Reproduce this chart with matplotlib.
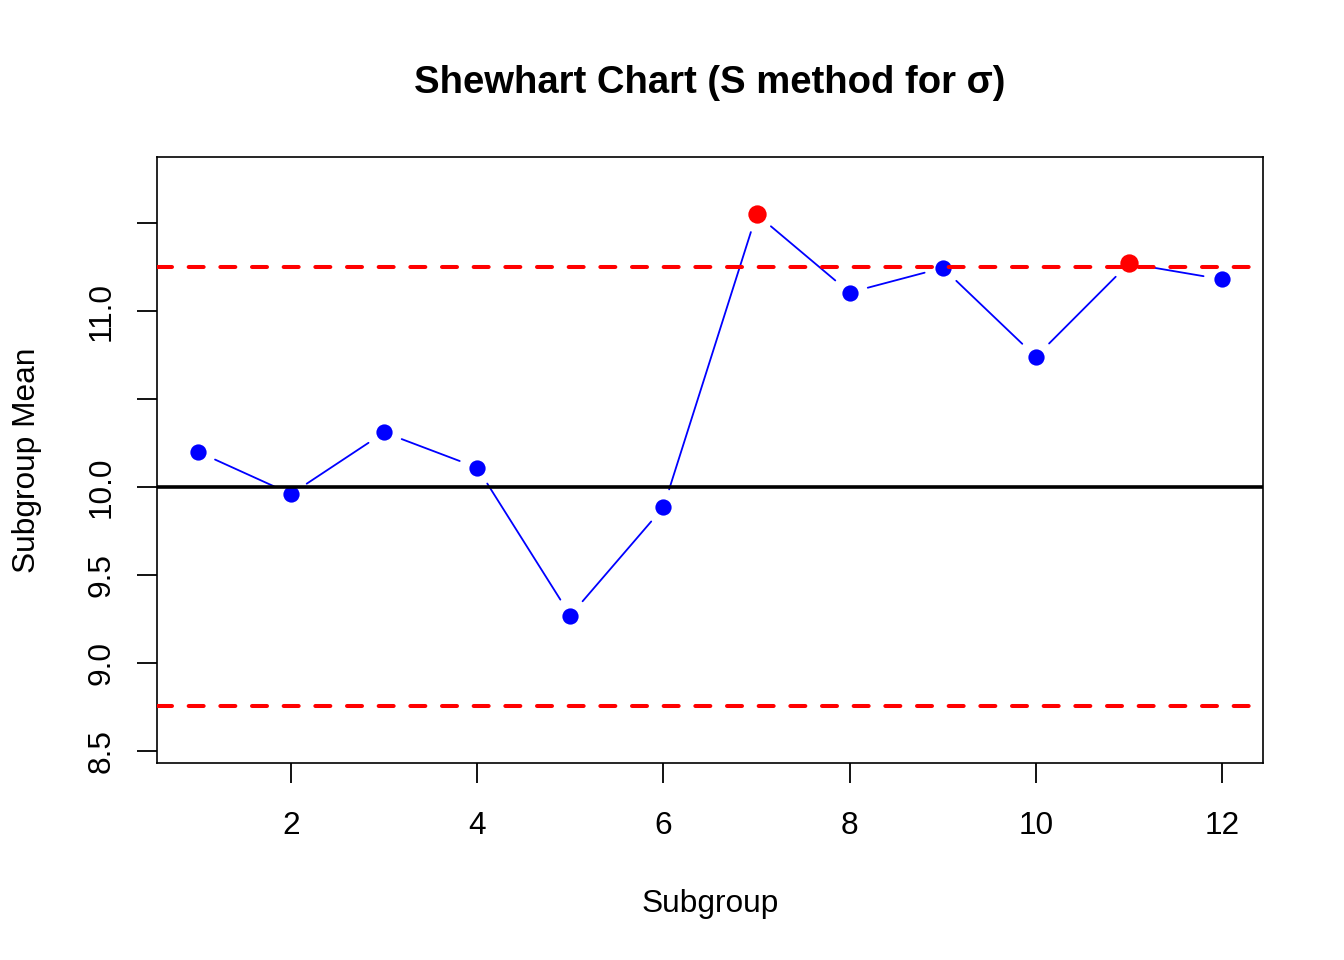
#!/usr/bin/python3

import numpy as np
import matplotlib
matplotlib.use('Agg')
import matplotlib.pyplot as plt

plt.rcParams['font.family'] = ['Liberation Sans', 'DejaVu Sans']

# subgroup means
subgroup = [1, 2, 3, 4, 5, 6, 7, 8, 9, 10, 11, 12]
means    = [10.20, 9.96, 10.31, 10.11, 9.27, 9.885, 11.55, 11.105, 11.245, 10.74, 11.27, 11.18]
center   = 10.0
ucl      = 11.25
lcl      = 8.755

yticks      = [8.5, 9.0, 9.5, 10.0, 10.5, 11.0, 11.5]
yticklabels = ['8.5', '9.0', '9.5', '10.0', '', '11.0', '']
xticks      = [2, 4, 6, 8, 10, 12]

x = np.array(subgroup)
y = np.array(means)
out = (y > ucl) | (y < lcl)

fig = plt.figure(figsize=(13.44, 9.6), dpi=100)
ax = fig.add_axes([157/1344, 1-763/960, 1106/1344, 606/960])

# R type="b": segments stop short of the points
for i in range(len(x)-1):
	ax.annotate('', xy=(x[i+1], y[i+1]), xytext=(x[i], y[i]),
		arrowprops=dict(arrowstyle='-', color='blue', lw=1.3,
			shrinkA=13.5, shrinkB=13.5), zorder=2)
ax.plot(x, y, 'o', color='blue', ms=11.7, mew=0, zorder=3)

lw = 2.9
for lim in (ucl, lcl):
	ax.axhline(lim, color='red', lw=lw, dashes=(10.8/lw, 12.0/lw),
		dash_capstyle='round', zorder=4)
ax.axhline(center, color='black', lw=2.6, zorder=4)

ax.plot(x[out], y[out], 'o', color='red', ms=13.2, mew=0, zorder=5)

ax.set_xlim(0.56, 12.44)
ax.set_ylim(8.432, 11.875)
ax.set_xticks(xticks)
ax.set_xticklabels([str(t) for t in xticks])
ax.set_yticks(yticks)
ax.set_yticklabels(yticklabels)

fs = 22.8
for s in ax.spines.values():
	s.set_linewidth(1.2)
ax.tick_params(axis='both', direction='out', length=14.4, width=1.3, labelsize=fs)
ax.tick_params(axis='x', pad=31)
ax.tick_params(axis='y', pad=25.5)
for lab in ax.get_xticklabels():
	lab.set_va('center')
for lab in ax.get_yticklabels():
	lab.set_rotation(90)
	lab.set_ha('center')
	lab.set_va('center')

ax.set_xlabel('Subgroup', fontsize=fs, va='center')
ax.xaxis.set_label_coords(0.5, (763-904)/606)
ax.set_ylabel('Subgroup Mean', fontsize=fs, va='center')
ax.yaxis.set_label_coords((27-157)/1106, 0.5)

fig.text(710/1344, 1-83/960, 'Shewhart Chart (S method for σ)',
	ha='center', va='center', fontsize=27.5, fontweight='bold')

fig.savefig('out.png', dpi=100)
